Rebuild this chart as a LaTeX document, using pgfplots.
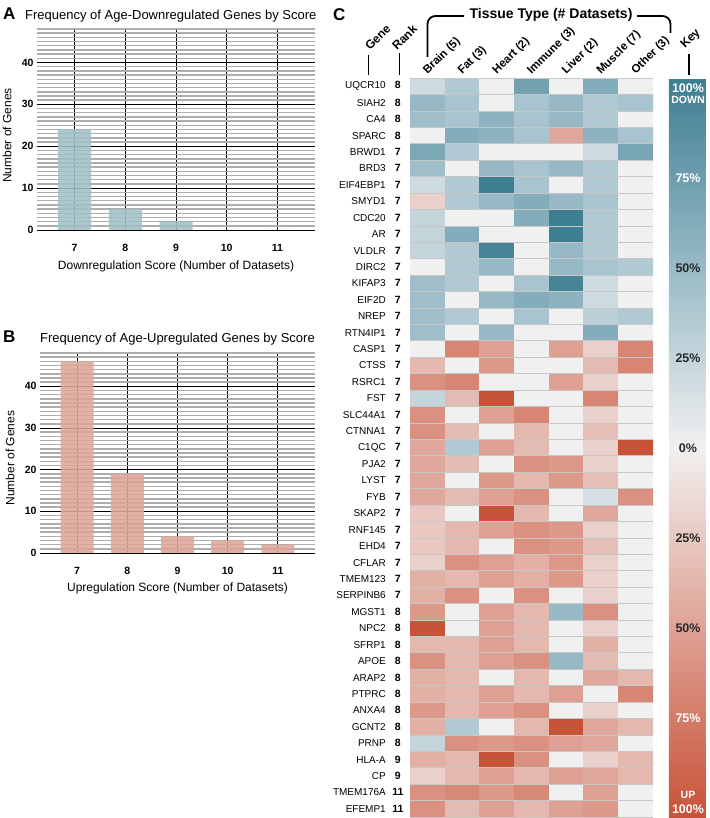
\documentclass[border=0pt]{standalone}
\usepackage{pgfplots}
\pgfplotsset{compat=1.18}
\usepackage{fontspec}
\setmainfont{Liberation Sans}
\definecolor{barA}{RGB}{160,192,199}
\definecolor{barB}{RGB}{221,166,153}
\definecolor{txtdark}{RGB}{40,40,40}
\pgfplotsset{
  barpanel/.style={
    anchor=south west, scale only axis,
    xmin=6.26, xmax=11.74, ymin=0, ymax=48,
    xtick={7,...,11}, ytick={0,10,20,30,40},
    minor ytick={1,...,9,11,12,...,19,21,22,...,29,31,32,...,39,41,42,...,48},
    grid=both,
    minor grid style={draw=black!32, line width=1.4pt},
    major grid style={draw=black, line width=0.9pt},
    axis line style={draw=none}, major tick length=0pt, minor tick length=0pt,
    ticklabel style={font=\bfseries\fontsize{10.5}{12}\selectfont},
    /pgf/number format/assume math mode=true,
    label style={font=\fontsize{12}{14}\selectfont},
    ylabel={Number of Genes},
  }
}
\begin{document}
\begin{tikzpicture}
\path[use as bounding box] (0pt,0pt) rectangle (709pt,818pt);
% ---------- Panel A
\begin{axis}[barpanel, at={(37pt,588pt)}, width=278pt, height=201pt,
  xticklabel style={yshift=-11pt},
  xlabel={Downregulation Score (Number of Datasets)},
  xlabel style={at={(axis description cs:0.5,-0.182)}, anchor=center},
  ylabel style={at={(axis description cs:-0.108,0.47)}, anchor=center}]
\addplot[ybar, bar width=33pt, fill=barA, draw=none, fill opacity=0.88]
  coordinates {(7,24) (8,5) (9,2) (10,0) (11,0)};
\end{axis}
% ---------- Panel B
\begin{axis}[barpanel, at={(40pt,265pt)}, width=275pt, height=200pt,
  xticklabel style={yshift=-10.5pt},
  xlabel={Upregulation Score (Number of Datasets)},
  xlabel style={at={(axis description cs:0.5,-0.175)}, anchor=center},
  ylabel style={at={(axis description cs:-0.109,0.475)}, anchor=center}]
\addplot[ybar, bar width=33pt, fill=barB, draw=none, fill opacity=0.88]
  coordinates {(7,46) (8,19) (9,4) (10,3) (11,2)};
\end{axis}
% ---------- Panel C heatmap
\begin{axis}[at={(410pt,1pt)}, anchor=south west, scale only axis,
  width=243pt, height=739pt,
  xmin=-0.5, xmax=6.5, ymin=-0.5, ymax=44.5, y dir=reverse, enlargelimits=false,
  axis line style={draw=none}, xtick=\empty,
  ytick={0,...,44},
  minor xtick={-0.5,0.5,...,6.5}, minor ytick={-0.5,0.5,...,44.5},
  grid=minor, minor grid style={draw=black!22, line width=0.6pt},
  axis on top,
  major tick length=0pt, minor tick length=0pt,
  yticklabel style={font=\fontsize{10}{12}\selectfont, inner sep=0pt, anchor=east},
  yticklabels={
   {UQCR10\makebox[24pt][c]{\bfseries\fontsize{10.5}{12}\selectfont 8}},
   {SIAH2\makebox[24pt][c]{\bfseries\fontsize{10.5}{12}\selectfont 8}},
   {CA4\makebox[24pt][c]{\bfseries\fontsize{10.5}{12}\selectfont 8}},
   {SPARC\makebox[24pt][c]{\bfseries\fontsize{10.5}{12}\selectfont 8}},
   {BRWD1\makebox[24pt][c]{\bfseries\fontsize{10.5}{12}\selectfont 7}},
   {BRD3\makebox[24pt][c]{\bfseries\fontsize{10.5}{12}\selectfont 7}},
   {EIF4EBP1\makebox[24pt][c]{\bfseries\fontsize{10.5}{12}\selectfont 7}},
   {SMYD1\makebox[24pt][c]{\bfseries\fontsize{10.5}{12}\selectfont 7}},
   {CDC20\makebox[24pt][c]{\bfseries\fontsize{10.5}{12}\selectfont 7}},
   {AR\makebox[24pt][c]{\bfseries\fontsize{10.5}{12}\selectfont 7}},
   {VLDLR\makebox[24pt][c]{\bfseries\fontsize{10.5}{12}\selectfont 7}},
   {DIRC2\makebox[24pt][c]{\bfseries\fontsize{10.5}{12}\selectfont 7}},
   {KIFAP3\makebox[24pt][c]{\bfseries\fontsize{10.5}{12}\selectfont 7}},
   {EIF2D\makebox[24pt][c]{\bfseries\fontsize{10.5}{12}\selectfont 7}},
   {NREP\makebox[24pt][c]{\bfseries\fontsize{10.5}{12}\selectfont 7}},
   {RTN4IP1\makebox[24pt][c]{\bfseries\fontsize{10.5}{12}\selectfont 7}},
   {CASP1\makebox[24pt][c]{\bfseries\fontsize{10.5}{12}\selectfont 7}},
   {CTSS\makebox[24pt][c]{\bfseries\fontsize{10.5}{12}\selectfont 7}},
   {RSRC1\makebox[24pt][c]{\bfseries\fontsize{10.5}{12}\selectfont 7}},
   {FST\makebox[24pt][c]{\bfseries\fontsize{10.5}{12}\selectfont 7}},
   {SLC44A1\makebox[24pt][c]{\bfseries\fontsize{10.5}{12}\selectfont 7}},
   {CTNNA1\makebox[24pt][c]{\bfseries\fontsize{10.5}{12}\selectfont 7}},
   {C1QC\makebox[24pt][c]{\bfseries\fontsize{10.5}{12}\selectfont 7}},
   {PJA2\makebox[24pt][c]{\bfseries\fontsize{10.5}{12}\selectfont 7}},
   {LYST\makebox[24pt][c]{\bfseries\fontsize{10.5}{12}\selectfont 7}},
   {FYB\makebox[24pt][c]{\bfseries\fontsize{10.5}{12}\selectfont 7}},
   {SKAP2\makebox[24pt][c]{\bfseries\fontsize{10.5}{12}\selectfont 7}},
   {RNF145\makebox[24pt][c]{\bfseries\fontsize{10.5}{12}\selectfont 7}},
   {EHD4\makebox[24pt][c]{\bfseries\fontsize{10.5}{12}\selectfont 7}},
   {CFLAR\makebox[24pt][c]{\bfseries\fontsize{10.5}{12}\selectfont 7}},
   {TMEM123\makebox[24pt][c]{\bfseries\fontsize{10.5}{12}\selectfont 7}},
   {SERPINB6\makebox[24pt][c]{\bfseries\fontsize{10.5}{12}\selectfont 7}},
   {MGST1\makebox[24pt][c]{\bfseries\fontsize{10.5}{12}\selectfont 8}},
   {NPC2\makebox[24pt][c]{\bfseries\fontsize{10.5}{12}\selectfont 8}},
   {SFRP1\makebox[24pt][c]{\bfseries\fontsize{10.5}{12}\selectfont 8}},
   {APOE\makebox[24pt][c]{\bfseries\fontsize{10.5}{12}\selectfont 8}},
   {ARAP2\makebox[24pt][c]{\bfseries\fontsize{10.5}{12}\selectfont 8}},
   {PTPRC\makebox[24pt][c]{\bfseries\fontsize{10.5}{12}\selectfont 8}},
   {ANXA4\makebox[24pt][c]{\bfseries\fontsize{10.5}{12}\selectfont 8}},
   {GCNT2\makebox[24pt][c]{\bfseries\fontsize{10.5}{12}\selectfont 8}},
   {PRNP\makebox[24pt][c]{\bfseries\fontsize{10.5}{12}\selectfont 8}},
   {HLA-A\makebox[24pt][c]{\bfseries\fontsize{10.5}{12}\selectfont 9}},
   {CP\makebox[24pt][c]{\bfseries\fontsize{10.5}{12}\selectfont 9}},
   {TMEM176A\makebox[24pt][c]{\bfseries\fontsize{10.5}{12}\selectfont 11}},
   {EFEMP1\makebox[24pt][c]{\bfseries\fontsize{10.5}{12}\selectfont 11}}},
  colormap={updown}{rgb255(0cm)=(62,126,145); rgb255(1cm)=(150,185,197); rgb255(2cm)=(241,240,240); rgb255(3cm)=(222,160,146); rgb255(4cm)=(200,82,56)},
  point meta min=-100, point meta max=100,
  colorbar,
  /pgfplots/colorbar/width=37pt,
  colorbar style={y dir=reverse, scale only axis, width=37pt, xshift=7pt,
    ytick=\empty, axis line style={draw=none}, grid=none, major tick length=0pt},
]
\addplot[matrix plot*, mesh/cols=7, point meta=explicit] coordinates {
(0,0)[-20] (1,0)[-35] (2,0)[0] (3,0)[-70] (4,0)[0] (5,0)[-60] (6,0)[0]
(0,1)[-50] (1,1)[-40] (2,1)[0] (3,1)[-40] (4,1)[-50] (5,1)[-35] (6,1)[-40]
(0,2)[-45] (1,2)[-40] (2,2)[-55] (3,2)[-40] (4,2)[-50] (5,2)[-35] (6,2)[0]
(0,3)[0] (1,3)[-60] (2,3)[-55] (3,3)[-40] (4,3)[45] (5,3)[-55] (6,3)[-40]
(0,4)[-65] (1,4)[-35] (2,4)[0] (3,4)[0] (4,4)[0] (5,4)[-20] (6,4)[-67]
(0,5)[-45] (1,5)[0] (2,5)[-50] (3,5)[-40] (4,5)[-50] (5,5)[-35] (6,5)[0]
(0,6)[-20] (1,6)[-35] (2,6)[-100] (3,6)[-40] (4,6)[0] (5,6)[-35] (6,6)[0]
(0,7)[20] (1,7)[-35] (2,7)[-50] (3,7)[-60] (4,7)[-50] (5,7)[-40] (6,7)[0]
(0,8)[-25] (1,8)[0] (2,8)[0] (3,8)[-60] (4,8)[-100] (5,8)[-35] (6,8)[0]
(0,9)[-25] (1,9)[-60] (2,9)[0] (3,9)[0] (4,9)[-100] (5,9)[-35] (6,9)[0]
(0,10)[-25] (1,10)[-35] (2,10)[-95] (3,10)[0] (4,10)[-50] (5,10)[-35] (6,10)[0]
(0,11)[0] (1,11)[-35] (2,11)[-50] (3,11)[0] (4,11)[-50] (5,11)[-40] (6,11)[-35]
(0,12)[-45] (1,12)[-35] (2,12)[0] (3,12)[-40] (4,12)[-95] (5,12)[-20] (6,12)[0]
(0,13)[-45] (1,13)[0] (2,13)[-50] (3,13)[-60] (4,13)[-55] (5,13)[-20] (6,13)[0]
(0,14)[-45] (1,14)[-35] (2,14)[0] (3,14)[-40] (4,14)[0] (5,14)[-30] (6,14)[-35]
(0,15)[-45] (1,15)[0] (2,15)[-50] (3,15)[0] (4,15)[0] (5,15)[-60] (6,15)[0]
(0,16)[0] (1,16)[67] (2,16)[50] (3,16)[0] (4,16)[50] (5,16)[20] (6,16)[67]
(0,17)[35] (1,17)[0] (2,17)[55] (3,17)[0] (4,17)[0] (5,17)[33] (6,17)[67]
(0,18)[60] (1,18)[67] (2,18)[0] (3,18)[0] (4,18)[50] (5,18)[20] (6,18)[0]
(0,19)[-25] (1,19)[33] (2,19)[100] (3,19)[0] (4,19)[0] (5,19)[67] (6,19)[0]
(0,20)[60] (1,20)[0] (2,20)[50] (3,20)[67] (4,20)[0] (5,20)[20] (6,20)[0]
(0,21)[60] (1,21)[33] (2,21)[0] (3,21)[35] (4,21)[0] (5,21)[30] (6,21)[0]
(0,22)[45] (1,22)[-35] (2,22)[50] (3,22)[33] (4,22)[0] (5,22)[20] (6,22)[100]
(0,23)[45] (1,23)[33] (2,23)[0] (3,23)[60] (4,23)[55] (5,23)[20] (6,23)[0]
(0,24)[45] (1,24)[0] (2,24)[55] (3,24)[35] (4,24)[55] (5,24)[30] (6,24)[0]
(0,25)[45] (1,25)[33] (2,25)[50] (3,25)[60] (4,25)[0] (5,25)[-15] (6,25)[60]
(0,26)[25] (1,26)[0] (2,26)[100] (3,26)[35] (4,26)[0] (5,26)[45] (6,26)[0]
(0,27)[25] (1,27)[35] (2,27)[50] (3,27)[60] (4,27)[55] (5,27)[20] (6,27)[0]
(0,28)[25] (1,28)[35] (2,28)[0] (3,28)[60] (4,28)[55] (5,28)[30] (6,28)[0]
(0,29)[20] (1,29)[60] (2,29)[50] (3,29)[40] (4,29)[55] (5,29)[20] (6,29)[0]
(0,30)[40] (1,30)[35] (2,30)[50] (3,30)[40] (4,30)[55] (5,30)[20] (6,30)[0]
(0,31)[40] (1,31)[60] (2,31)[0] (3,31)[60] (4,31)[0] (5,31)[20] (6,31)[0]
(0,32)[55] (1,32)[0] (2,32)[50] (3,32)[35] (4,32)[-50] (5,32)[60] (6,32)[0]
(0,33)[100] (1,33)[0] (2,33)[50] (3,33)[35] (4,33)[0] (5,33)[20] (6,33)[0]
(0,34)[35] (1,34)[35] (2,34)[50] (3,34)[35] (4,34)[0] (5,34)[40] (6,34)[0]
(0,35)[60] (1,35)[35] (2,35)[50] (3,35)[60] (4,35)[-50] (5,35)[33] (6,35)[0]
(0,36)[40] (1,36)[35] (2,36)[0] (3,36)[35] (4,36)[0] (5,36)[45] (6,36)[35]
(0,37)[40] (1,37)[35] (2,37)[50] (3,37)[35] (4,37)[50] (5,37)[0] (6,37)[67]
(0,38)[55] (1,38)[35] (2,38)[50] (3,38)[60] (4,38)[0] (5,38)[20] (6,38)[0]
(0,39)[40] (1,39)[-35] (2,39)[0] (3,39)[35] (4,39)[100] (5,39)[45] (6,39)[35]
(0,40)[-25] (1,40)[60] (2,40)[55] (3,40)[60] (4,40)[50] (5,40)[45] (6,40)[0]
(0,41)[40] (1,41)[35] (2,41)[100] (3,41)[60] (4,41)[0] (5,41)[20] (6,41)[35]
(0,42)[20] (1,42)[35] (2,42)[50] (3,42)[35] (4,42)[50] (5,42)[45] (6,42)[35]
(0,43)[60] (1,43)[65] (2,43)[55] (3,43)[65] (4,43)[0] (5,43)[50] (6,43)[0]
(0,44)[60] (1,44)[33] (2,44)[50] (3,44)[35] (4,44)[50] (5,44)[55] (6,44)[0]
};
\end{axis}
% ---------- texts
\node[anchor=base west, inner sep=0pt, font=\bfseries\fontsize{17}{20}\selectfont] at (3pt,798pt) {A};
\node[anchor=base west, inner sep=0pt, font=\fontsize{13}{15}\selectfont] at (25pt,798pt) {Frequency of Age-Downregulated Genes by Score};
\node[anchor=base west, inner sep=0pt, font=\bfseries\fontsize{17}{20}\selectfont] at (3pt,475pt) {B};
\node[anchor=base west, inner sep=0pt, font=\fontsize{13}{15}\selectfont] at (40pt,475pt) {Frequency of Age-Upregulated Genes by Score};
\node[anchor=base west, inner sep=0pt, font=\bfseries\fontsize{17}{20}\selectfont] at (333pt,797pt) {C};
\node[anchor=base, inner sep=0pt, font=\bfseries\fontsize{14}{16}\selectfont] at (551pt,799pt) {Tissue Type (\# Datasets)};
\draw[line width=1.8pt, rounded corners=8pt] (427.5pt,761pt) -- (427.5pt,802pt) -- (464pt,802pt);
\draw[line width=1.8pt, rounded corners=8pt] (637pt,802pt) -- (670.5pt,802pt) -- (670.5pt,785pt);
\foreach \lab [count=\i from 0] in {Brain (5),Fat (3),Heart (2),Immune (3),Liver (2),Muscle (7),Other (3)}{
  \node[anchor=base west, inner sep=0pt, rotate=45, font=\bfseries\fontsize{11.5}{13}\selectfont]
    at ({(427.4+34.71*\i)*1pt},743pt) {\lab};
}
\node[anchor=base west, inner sep=0pt, rotate=45, font=\bfseries\fontsize{12}{14}\selectfont] at (370pt,767pt) {Gene};
\node[anchor=base west, inner sep=0pt, rotate=45, font=\bfseries\fontsize{12}{14}\selectfont] at (397pt,767pt) {Rank};
\node[anchor=base west, inner sep=0pt, rotate=45, font=\bfseries\fontsize{12}{14}\selectfont] at (685pt,769pt) {Key};
\draw[line width=1.5pt] (368.3pt,763pt) -- (368.3pt,743pt);
\draw[line width=1.5pt] (399.3pt,765pt) -- (399.3pt,743pt);
\draw[line width=1.5pt] (689pt,764pt) -- (689pt,743pt);
\begin{scope}[every node/.style={inner sep=0pt, font=\bfseries\fontsize{12.5}{14}\selectfont}]
\node[white] at (688pt,730pt) {100\%};
\node[white, font=\bfseries\fontsize{10.5}{12}\selectfont] at (688pt,718pt) {DOWN};
\node[white] at (688pt,640pt) {75\%};
\node[txtdark] at (688pt,550pt) {50\%};
\node[txtdark] at (688pt,460pt) {25\%};
\node[txtdark] at (688pt,370pt) {0\%};
\node[txtdark] at (688pt,280pt) {25\%};
\node[txtdark] at (688pt,190pt) {50\%};
\node[white] at (688pt,100pt) {75\%};
\node[white, font=\bfseries\fontsize{10.5}{12}\selectfont] at (688pt,23pt) {UP};
\node[white] at (688pt,9pt) {100\%};
\end{scope}
\end{tikzpicture}
\end{document}
